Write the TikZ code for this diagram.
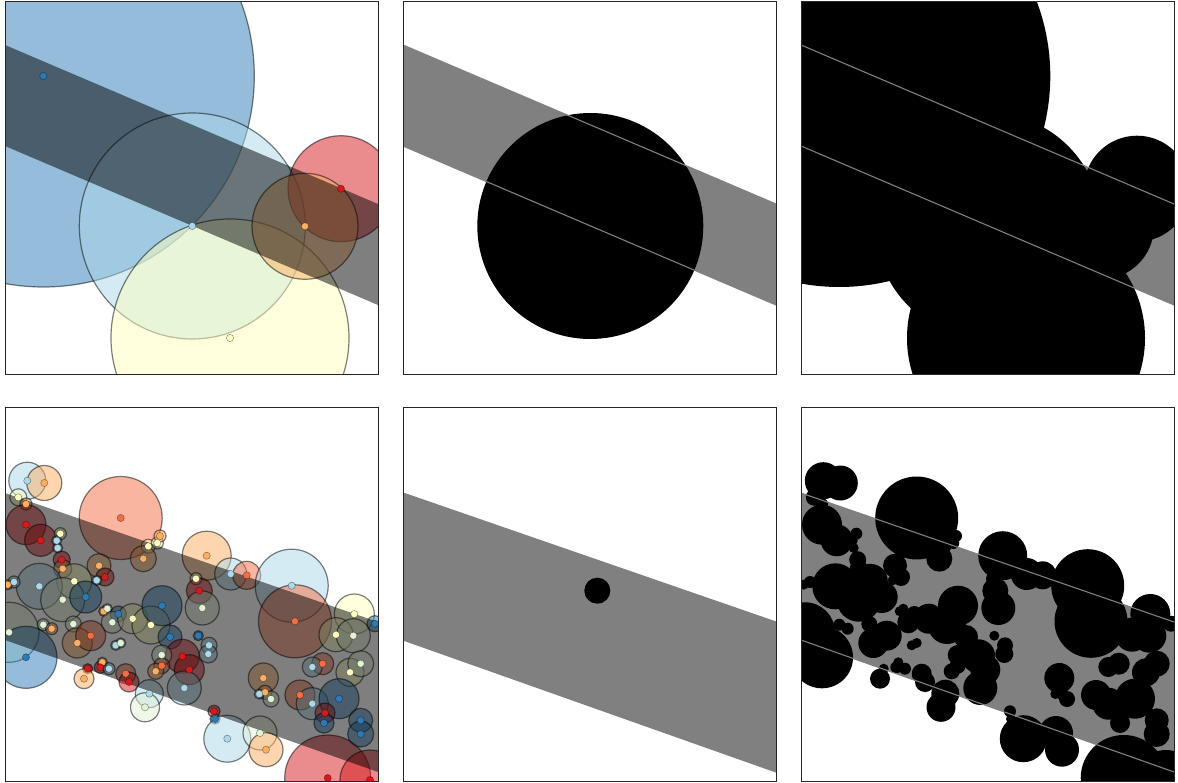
\documentclass[tikz,border=0pt]{standalone}
\definecolor{cR}{HTML}{D7191C}
\definecolor{cO}{HTML}{F46D43}
\definecolor{cL}{HTML}{FDAE61}
\definecolor{cY}{HTML}{FFFFBF}
\definecolor{cP}{HTML}{E2F2D6}
\definecolor{cLB}{HTML}{ABD9E9}
\definecolor{cB}{HTML}{2C7BB6}
\definecolor{bandgray}{HTML}{808080}
\tikzset{
  framebox/.style={draw=black!85, line width=1pt},
  softcircle/.style={fill opacity=0.5, draw=black, draw opacity=0.5, line width=1.2pt},
  centerdot/.style={draw=black, draw opacity=0.5, line width=0.4pt},
  bandedge/.style={draw=bandgray, line width=1.1pt},
}
\def\setA{38.3/74/211/cB, 187.3/224/113/cLB, 225/336/119/cY, 336/186.7/53/cR, 300/224.3/53/cL}
\def\setB{22.3/72.7/18.5/cLB, 39.3/75/17.5/cL, 13.3/89.3/8.5/cY, 21/96/6/cL, 21/116.7/20/cR,
35.7/132.3/16/cR, 55.3/125.7/6/cY, 51.7/132.7/5/cLB, 52.7/140/5/cLB, 56.7/151.7/8.5/cR,
57.7/160.7/9/cL, 115.7/110/41.5/cO, 143.3/138.3/7/cY, 152.3/135/6/cY, 155/128/6/cL,
138.3/150.7/13/cL, 94/157.7/12/cL, 100/169/9/cR, 91.7/172.3/5/cLB, 69.3/173.3/17.5/cY,
34.3/178.3/23/cLB, 9/174/6/cLB, 2.7/176.7/5/cL, 201.7/147.7/24.5/cL, 225.7/166/16/cLB,
241.7/167.3/14/cO, 286.7/177.7/36.5/cLB, 191/170.7/6/cY, 194.3/182.7/13/cR,
57.7/191.7/22/cP, 80.7/189/16/cB, 4/224.3/30/cP, 21/249.3/31/cB, 38.3/216.7/6/cP,
46.7/220.7/6/cL, 68.3/216/8/cP, 72.3/235/15/cL, 85.7/227.7/15/cO, 98.7/203.3/5/cL,
102.3/200.7/5/cP, 113.3/206/8/cB, 107.3/214.3/11/cP, 127.7/210.7/15/cY, 146/217/19/cY,
157/197.7/20/cB, 165/229/12/cB, 110.7/237.3/5/cLB, 115.7/235/5/cP, 82.7/260.7/5/cR,
97.3/254.3/5/cL, 95.3/259.3/6/cR, 104/260.7/6/cLB, 79/270.7/10/cL, 120.7/265.7/10/cO,
124/274/10/cR, 144.3/285.7/14/cLB, 140/299.3/14.5/cP, 177.3/248.3/17/cR, 184.3/261.7/15/cR,
156.7/247/10/cP, 156.7/257.7/8/cO, 150.7/263.3/8/cL, 179.3/280/17/cLB,
197.3/200/17/cP, 290/213.3/36.5/cO, 349.3/206/20/cY, 331/226.7/17/cY, 348.3/227.7/17/cP,
370/215.7/8/cB, 193.3/227.7/5/cB, 204/237.3/8/cLB, 203.3/246/9/cLB, 258.3/270/15/cL,
260/284.3/7/cL, 254.3/286/5/cLB, 266/291/8/cP, 295/287/15/cO, 307.3/295.7/16/cLB,
317.7/255.7/11/cO, 307.3/259/10/cLB, 345/264.3/14/cY, 355.7/255.7/13/cP, 334/290.7/20/cB,
320/305/10/cR, 319/315/10/cB, 355.7/312.3/12/cB, 355.7/326/13/cB, 209/303.3/6/cR,
210/311/5/cB, 222.3/330.7/23.5/cLB, 255/325/17/cP, 261/341.7/17/cL, 322.7/370/43/cR,
365/372/30/cR}
% band polygons (local panel coordinates, 373 x 373)
\def\bandtop{(0,43) -- (373,202) -- (373,303) -- (0,144) -- cycle}
\def\bandbot{(0,85) -- (373,214) -- (373,364) -- (0,232) -- cycle}
\begin{document}
\begin{tikzpicture}[x=1pt,y=-1pt]
\useasboundingbox (0,0) rectangle (1178,783);
\fill[white] (0,0) rectangle (1178,783);
% ---------- panel 1 ----------
\begin{scope}[shift={(5,2)}]
  \begin{scope}
    \clip (0,0) rectangle (373,373);
    \foreach \cx/\cy/\rr/\cc in \setA {\path[softcircle, fill=\cc] (\cx,\cy) circle[radius=\rr pt];}
    \fill[black, opacity=0.5] \bandtop;
    \foreach \cx/\cy/\rr/\cc in \setA {\path[centerdot, fill=\cc] (\cx,\cy) circle[radius=3.6pt];}
  \end{scope}
  \draw[framebox] (0,0) rectangle (373,373);
\end{scope}
% ---------- panel 2 ----------
\begin{scope}[shift={(403,2)}]
  \begin{scope}
    \clip (0,0) rectangle (373,373);
    \fill[bandgray] \bandtop;
    \fill[black] (187.3,224) circle[radius=113pt];
    \draw[bandedge] (0,43) -- (373,202);
    \draw[bandedge] (0,144) -- (373,303);
  \end{scope}
  \draw[framebox] (0,0) rectangle (373,373);
\end{scope}
% ---------- panel 3 ----------
\begin{scope}[shift={(801,2)}]
  \begin{scope}
    \clip (0,0) rectangle (373,373);
    \fill[bandgray] \bandtop;
    \foreach \cx/\cy/\rr/\cc in \setA {\fill[black] (\cx,\cy) circle[radius=\rr pt];}
    \draw[bandedge] (0,43) -- (373,202);
    \draw[bandedge] (0,144) -- (373,303);
  \end{scope}
  \draw[framebox] (0,0) rectangle (373,373);
\end{scope}
% ---------- panel 4 ----------
\begin{scope}[shift={(5,408)}]
  \begin{scope}
    \clip (0,0) rectangle (373,373);
    \foreach \cx/\cy/\rr/\cc in \setB {\path[softcircle, fill=\cc] (\cx,\cy) circle[radius=\rr pt];}
    \fill[black, opacity=0.5] \bandbot;
    \foreach \cx/\cy/\rr/\cc in \setB {\path[centerdot, fill=\cc] (\cx,\cy) circle[radius=3.6pt];}
  \end{scope}
  \draw[framebox] (0,0) rectangle (373,373);
\end{scope}
% ---------- panel 5 ----------
\begin{scope}[shift={(403,408)}]
  \begin{scope}
    \clip (0,0) rectangle (373,373);
    \fill[bandgray] \bandbot;
    \fill[black] (194.3,182.7) circle[radius=13pt];
    \draw[bandedge] (0,85) -- (373,214);
    \draw[bandedge] (0,232) -- (373,364);
  \end{scope}
  \draw[framebox] (0,0) rectangle (373,373);
\end{scope}
% ---------- panel 6 ----------
\begin{scope}[shift={(801,408)}]
  \begin{scope}
    \clip (0,0) rectangle (373,373);
    \fill[bandgray] \bandbot;
    \foreach \cx/\cy/\rr/\cc in \setB {\fill[black] (\cx,\cy) circle[radius=\rr pt];}
    \draw[bandedge] (0,85) -- (373,214);
    \draw[bandedge] (0,232) -- (373,364);
  \end{scope}
  \draw[framebox] (0,0) rectangle (373,373);
\end{scope}
\end{tikzpicture}
\end{document}
